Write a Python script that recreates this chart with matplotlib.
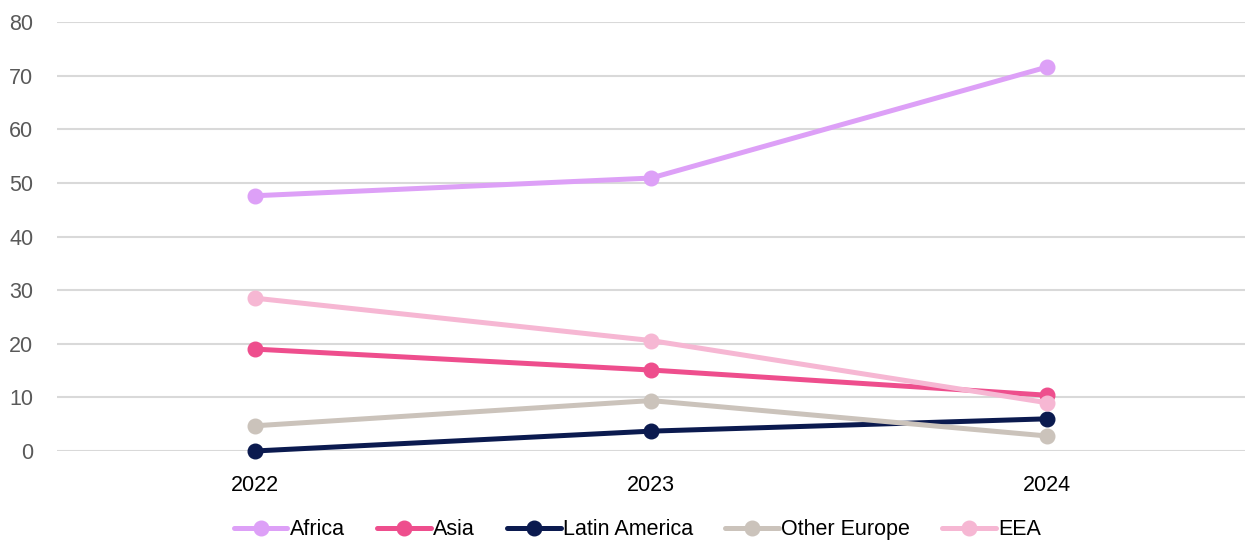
import matplotlib
matplotlib.use("Agg")
import matplotlib.pyplot as plt

years = ["2022", "2023", "2024"]
africa = [47.6, 50.9, 71.6]
asia = [19.0, 15.1, 10.4]
latin_america = [0.0, 3.7, 6.0]
other_europe = [4.7, 9.4, 2.8]
eea = [28.5, 20.6, 9.0]

series = [
    ("Africa", africa, "#DDA0F7"),
    ("Asia", asia, "#EE4E8D"),
    ("Latin America", latin_america, "#0B1A4F"),
    ("Other Europe", other_europe, "#CBC3BB"),
    ("EEA", eea, "#F6B7D3"),
]

plt.rcParams['font.family'] = ['Liberation Sans', 'DejaVu Sans']
fig = plt.figure(figsize=(12.45, 5.45), dpi=100)
ax = fig.add_axes([0.0458, 0.1725, 0.9542, 0.7871])

x = list(range(len(years)))
for name, vals, col in series:
    ax.plot(x, vals, color=col, lw=3.6, marker="o", markersize=10.5,
            label=name, clip_on=False, solid_capstyle="round", zorder=3)

ax.set_xlim(-0.5, 2.5)
ax.set_ylim(0, 80)
ax.set_yticks(range(0, 81, 10))
ax.set_xticks(x)
ax.set_xticklabels(years)
ax.grid(axis="y", color="#D9D9D9", lw=1.5)
ax.set_axisbelow(True)
for s in ax.spines.values():
    s.set_visible(False)
ax.tick_params(axis="y", length=0, labelsize=15.5, labelcolor="#595959", pad=17)
ax.tick_params(axis="x", length=0, labelsize=15.5, labelcolor="#000000", pad=17)

leg = fig.legend(loc="center", bbox_to_anchor=(0.512, 0.028), ncol=5, frameon=False,
                 fontsize=15.5, handlelength=2.5, handletextpad=0.1, columnspacing=1.5)

fig.savefig("out.png", dpi=100)
